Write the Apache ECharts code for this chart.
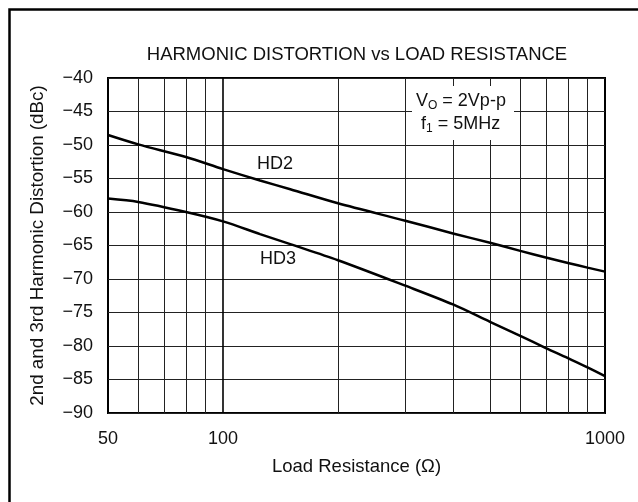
<!DOCTYPE html>
<html>
<head>
<meta charset="utf-8">
<script src="https://cdn.jsdelivr.net/npm/echarts@6/dist/echarts.min.js"></script>
<style>
  html, body { margin: 0; padding: 0; background: #fff; }
  #chart { width: 638px; height: 502px; }
</style>
</head>
<body>
<div id="chart"></div>
<script>
// Load resistance (ohms) and measured distortion (dBc)
const resistance = [50, 60, 80, 100, 125, 150, 200, 300, 400, 500, 600, 700, 800, 900, 1000];
const hd2 = [-48.5, -49.9, -51.8, -53.6, -55.3, -56.6, -58.7, -61.3, -63.2, -64.6, -65.8, -66.8, -67.6, -68.3, -68.9];
const hd3 = [-58.0, -58.5, -60.0, -61.4, -63.3, -64.8, -67.2, -71.0, -73.8, -76.4, -78.5, -80.3, -81.8, -83.2, -84.5];

// Axis ticks and vertical grid positions on the log axis
const xTickLabels = [50, 100, 1000];
const xGridValues = [60, 70, 80, 90, 100, 200, 300, 400, 500, 600, 700, 800, 900];
const yTicks = [-90, -85, -80, -75, -70, -65, -60, -55, -50, -45, -40];

const FONT = '"Liberation Sans", Arial, Helvetica, sans-serif';
const INK = '#111';

const pairs = (xs, ys) => xs.map((x, i) => [x, ys[i]]);
const minus = v => String(v).replace('-', '\u2212');

const chart = echarts.init(document.getElementById('chart'));

chart.setOption({
  animation: false,
  backgroundColor: '#fff',
  grid: {
    left: 108, top: 78, right: 33, bottom: 89,
    show: true, borderColor: '#000', borderWidth: 2, backgroundColor: 'transparent'
  },
  xAxis: {
    type: 'log',
    logBase: 10,
    min: resistance[0],
    max: resistance[resistance.length - 1],
    name: 'Load Resistance (\u03A9)',
    nameLocation: 'middle',
    nameGap: 44,
    nameTextStyle: { fontFamily: FONT, fontSize: 18.5, color: INK },
    axisLine: { show: false },
    axisTick: { show: false },
    splitLine: { show: false },
    axisLabel: {
      fontFamily: FONT, fontSize: 18, color: INK, margin: 17,
      formatter: v => {
        const r = Math.round(v);
        return xTickLabels.indexOf(r) >= 0 ? String(r) : '';
      }
    }
  },
  yAxis: {
    type: 'value',
    min: yTicks[0],
    max: yTicks[yTicks.length - 1],
    interval: 5,
    name: '2nd and 3rd Harmonic Distortion (dBc)',
    nameLocation: 'middle',
    nameGap: 61,
    nameTextStyle: { fontFamily: FONT, fontSize: 18.8, color: INK },
    axisLine: { show: false },
    axisTick: { show: false },
    splitLine: { show: true, lineStyle: { color: '#222', width: 1 } },
    axisLabel: { fontFamily: FONT, fontSize: 18, color: INK, margin: 15, formatter: minus }
  },
  series: [
    {
      // vertical decade / sub-decade grid
      type: 'line',
      data: [],
      silent: true,
      z: 1,
      markLine: {
        silent: true,
        symbol: ['none', 'none'],
        label: { show: false },
        animation: false,
        data: xGridValues.map(v => ({
          xAxis: v,
          lineStyle: { color: v === 100 ? '#000' : '#222', width: v === 100 ? 1.6 : 1, type: 'solid' }
        }))
      }
    },
    {
      name: 'HD2',
      type: 'line',
      data: pairs(resistance, hd2),
      smooth: 0.3,
      showSymbol: false,
      z: 5,
      lineStyle: { color: '#000', width: 2.5 }
    },
    {
      name: 'HD3',
      type: 'line',
      data: pairs(resistance, hd3),
      smooth: 0.3,
      showSymbol: false,
      z: 5,
      lineStyle: { color: '#000', width: 2.5 }
    }
  ],
  graphic: [
    // page frame
    {
      type: 'rect', z: 50, silent: true,
      shape: { x: 9.5, y: 9.5, width: 700, height: 600 },
      style: { fill: 'none', stroke: '#000', lineWidth: 2.5 }
    },
    // chart title, centred over the plot
    {
      type: 'text', z: 61, silent: true, x: 357, y: 55,
      style: {
        text: 'HARMONIC DISTORTION vs LOAD RESISTANCE',
        align: 'center', verticalAlign: 'middle',
        fontFamily: FONT, fontSize: 18.5, fill: INK
      }
    },
    // condition box
    {
      type: 'rect', z: 60, silent: true,
      shape: { x: 412, y: 86, width: 102, height: 54 },
      style: { fill: '#fff' }
    },
    {
      type: 'text', z: 61, silent: true, left: 416, top: 92,
      style: {
        text: '{n|V}{s|O}{n| = 2Vp-p}',
        fill: INK,
        rich: {
          n: { fontFamily: FONT, fontSize: 18, fill: INK },
          s: { fontFamily: FONT, fontSize: 12, fill: INK, padding: [10, 0, 0, 0] }
        }
      }
    },
    {
      type: 'text', z: 61, silent: true, left: 421, top: 115,
      style: {
        text: '{n|f}{s|1}{n| = 5MHz}',
        fill: INK,
        rich: {
          n: { fontFamily: FONT, fontSize: 18, fill: INK },
          s: { fontFamily: FONT, fontSize: 12, fill: INK, padding: [10, 0, 0, 0] }
        }
      }
    },
    // curve labels
    {
      type: 'text', z: 61, silent: true, left: 257, top: 155,
      style: { text: 'HD2', fontFamily: FONT, fontSize: 18, fill: INK }
    },
    {
      type: 'text', z: 61, silent: true, left: 260, top: 250,
      style: { text: 'HD3', fontFamily: FONT, fontSize: 18, fill: INK }
    }
  ]
});
</script>
</body>
</html>
